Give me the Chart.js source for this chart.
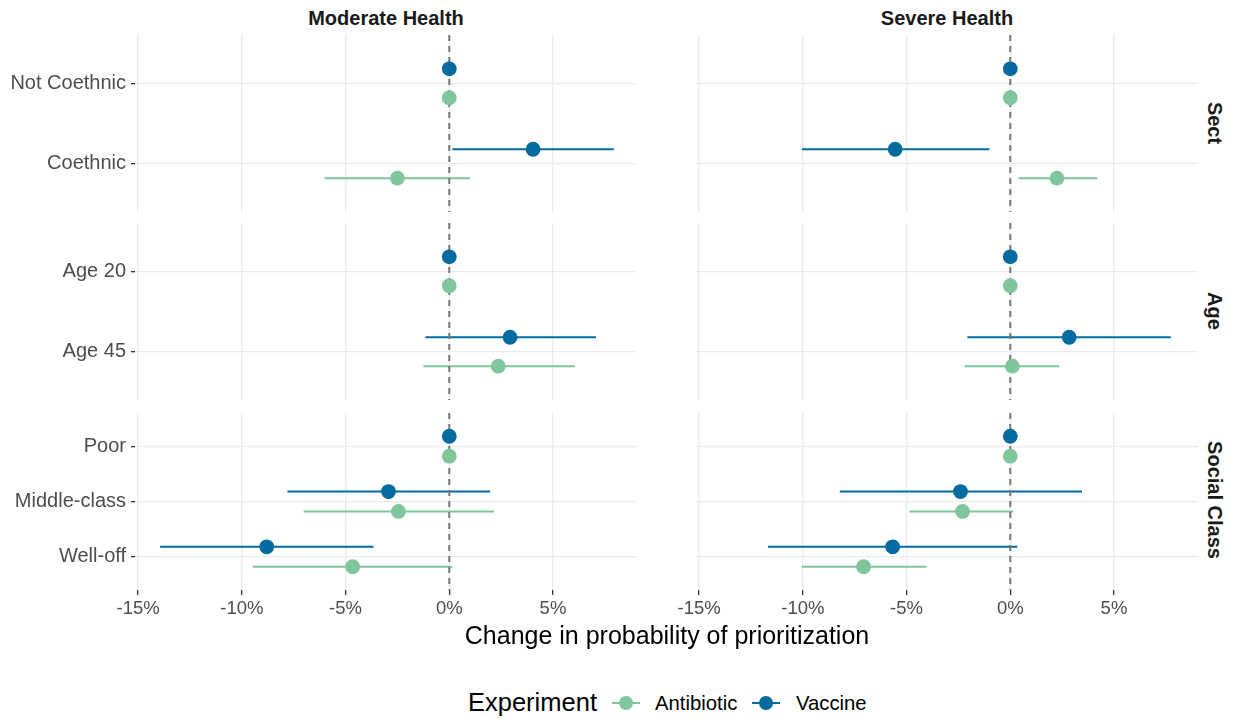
<!DOCTYPE html>
<html>
<head>
<meta charset="utf-8">
<script src="https://cdn.jsdelivr.net/npm/chart.js@4.4.1/dist/chart.umd.min.js"></script>
<style>
  body { margin: 0; background: #fff; width: 1235px; height: 719px; overflow: hidden; position: relative;
         font-family: "Liberation Sans", Arial, Helvetica, sans-serif; }
  canvas { position: absolute; }
  .txt { position: absolute; white-space: nowrap; line-height: 1; }
  .strip { font-weight: bold; font-size: 20px; color: #1a1a1a; transform: translate(-50%, -50%); }
  .rot { transform: translate(-50%, -50%) rotate(90deg); }
</style>
</head>
<body>
<canvas id="p11" width="637" height="177" style="left:0;top:35px"></canvas>
<canvas id="p12" width="542" height="177" style="left:656px;top:35px"></canvas>
<canvas id="p21" width="637" height="177" style="left:0;top:223px"></canvas>
<canvas id="p22" width="542" height="177" style="left:656px;top:223px"></canvas>
<canvas id="p31" width="637" height="211" style="left:0;top:413px"></canvas>
<canvas id="p32" width="542" height="211" style="left:656px;top:413px"></canvas>

<div class="txt strip" style="left:386px;top:18px">Moderate Health</div>
<div class="txt strip" style="left:947px;top:18px">Severe Health</div>
<div class="txt strip rot" style="left:1215px;top:123px">Sect</div>
<div class="txt strip rot" style="left:1215px;top:311px">Age</div>
<div class="txt strip rot" style="left:1215px;top:500px">Social Class</div>

<div class="txt" style="left:667px;top:635px;transform:translate(-50%,-50%);font-size:25px;color:#000">Change in probability of prioritization</div>

<div class="txt" style="left:468px;top:703px;transform:translateY(-50%);font-size:25.5px;color:#000">Experiment</div>
<svg style="position:absolute;left:610px;top:693px" width="32" height="20">
  <line x1="2" y1="10" x2="30" y2="10" stroke="#7FC69C" stroke-width="2"/>
  <circle cx="16" cy="10" r="7" fill="#7FC69C"/>
</svg>
<div class="txt" style="left:655px;top:703px;transform:translateY(-50%);font-size:20.3px;color:#000">Antibiotic</div>
<svg style="position:absolute;left:750px;top:693px" width="32" height="20">
  <line x1="2" y1="10" x2="30" y2="10" stroke="#036B9F" stroke-width="2"/>
  <circle cx="16" cy="10" r="7" fill="#036B9F"/>
</svg>
<div class="txt" style="left:796px;top:703px;transform:translateY(-50%);font-size:20.3px;color:#000">Vaccine</div>

<script>
// Niveaux de chaque groupe (de haut en bas)
const sectLevels = ['Not Coethnic', 'Coethnic'];
const ageLevels = ['Age 20', 'Age 45'];
const classLevels = ['Poor', 'Middle-class', 'Well-off'];
const xTicks = [-15, -10, -5, 0, 5];

// Estimations en % : [estimation, borne basse, borne haute] (null = niveau de référence)
const sectModerateVaccine = [[0, null, null], [4.04, 0.15, 7.93]];
const sectModerateAntibiotic = [[0, null, null], [-2.5, -6.0, 1.0]];
const sectSevereVaccine = [[0, null, null], [-5.55, -10.05, -1.0]];
const sectSevereAntibiotic = [[0, null, null], [2.25, 0.4, 4.2]];

const ageModerateVaccine = [[0, null, null], [2.93, -1.15, 7.07]];
const ageModerateAntibiotic = [[0, null, null], [2.36, -1.25, 6.06]];
const ageSevereVaccine = [[0, null, null], [2.84, -2.07, 7.74]];
const ageSevereAntibiotic = [[0, null, null], [0.1, -2.2, 2.36]];

const classModerateVaccine = [[0, null, null], [-2.93, -7.8, 1.97], [-8.8, -13.94, -3.65]];
const classModerateAntibiotic = [[0, null, null], [-2.45, -7.02, 2.16], [-4.66, -9.47, 0.14]];
const classSevereVaccine = [[0, null, null], [-2.4, -8.22, 3.46], [-5.67, -11.68, 0.34]];
const classSevereAntibiotic = [[0, null, null], [-2.3, -4.86, 0.14], [-7.07, -10.05, -4.04]];

const vaccineColor = '#036B9F';
const antibioticColor = '#7FC69C';
const gridColor = '#EBEBEB';
const fontFamily = '"Liberation Sans", Arial, Helvetica, sans-serif';
const dodge = 0.18;

function seriesDatasets(values, offset, color) {
    const sets = [];
    // Barres d'erreur
    values.forEach(function(v, i) {
        if (v[1] === null) return;
        sets.push({
            data: [{ x: v[1], y: i + 1 + offset }, { x: v[2], y: i + 1 + offset }],
            showLine: true,
            borderColor: color,
            borderWidth: 2,
            pointRadius: 0,
            order: 2
        });
    });
    // Points
    sets.push({
        data: values.map(function(v, i) { return { x: v[0], y: i + 1 + offset }; }),
        backgroundColor: color,
        borderColor: color,
        pointRadius: 7.4,
        pointBorderWidth: 0,
        order: 0
    });
    return sets;
}

function makePanel(id, levels, vaccine, antibiotic, showY, showX) {
    const n = levels.length;
    const yMin = 0.4, yMax = n + 0.6;
    const datasets = []
        .concat(seriesDatasets(vaccine, -dodge, vaccineColor))
        .concat(seriesDatasets(antibiotic, dodge, antibioticColor));
    // Ligne verticale à 0
    datasets.push({
        data: [{ x: 0, y: yMin }, { x: 0, y: yMax }],
        showLine: true,
        borderColor: '#777777',
        borderWidth: 2,
        borderDash: [6, 5],
        pointRadius: 0,
        order: 1
    });

    return new Chart(document.getElementById(id), {
        type: 'scatter',
        data: { datasets: datasets },
        options: {
            responsive: false,
            animation: false,
            events: [],
            layout: { padding: 0, autoPadding: false },
            plugins: { legend: { display: false }, tooltip: { enabled: false } },
            scales: {
                x: {
                    type: 'linear',
                    min: -15.15,
                    max: 9.05,
                    afterBuildTicks: function(scale) {
                        scale.ticks = xTicks.map(function(v) { return { value: v }; });
                    },
                    ticks: {
                        display: showX,
                        autoSkip: false,
                        maxRotation: 0,
                        padding: 3,
                        color: '#4D4D4D',
                        font: { family: fontFamily, size: 18.5 },
                        callback: function(value) { return value + '%'; }
                    },
                    grid: { color: gridColor, lineWidth: 1.3, drawTicks: showX, tickLength: 5, tickColor: '#333333', tickWidth: 1.3 },
                    border: { display: false },
                    afterFit: function(scale) {
                        scale.height = showX ? 34 : 0;
                        scale.paddingLeft = 0;
                        scale.paddingRight = 0;
                    }
                },
                y: {
                    type: 'linear',
                    reverse: true,
                    min: yMin,
                    max: yMax,
                    afterBuildTicks: function(scale) {
                        scale.ticks = levels.map(function(l, i) { return { value: i + 1 }; });
                    },
                    ticks: {
                        display: showY,
                        autoSkip: false,
                        padding: 5,
                        color: '#4D4D4D',
                        font: { family: fontFamily, size: 20 },
                        callback: function(value) { return levels[value - 1]; }
                    },
                    grid: { color: gridColor, lineWidth: 1.3, drawTicks: showY, tickLength: 4, tickColor: '#333333', tickWidth: 1.3 },
                    border: { display: false },
                    afterFit: function(scale) {
                        scale.width = showY ? 135 : 40;
                        scale.paddingTop = 0;
                        scale.paddingBottom = 0;
                    }
                }
            }
        }
    });
}

makePanel('p11', sectLevels, sectModerateVaccine, sectModerateAntibiotic, true, false);
makePanel('p12', sectLevels, sectSevereVaccine, sectSevereAntibiotic, false, false);
makePanel('p21', ageLevels, ageModerateVaccine, ageModerateAntibiotic, true, false);
makePanel('p22', ageLevels, ageSevereVaccine, ageSevereAntibiotic, false, false);
makePanel('p31', classLevels, classModerateVaccine, classModerateAntibiotic, true, true);
makePanel('p32', classLevels, classSevereVaccine, classSevereAntibiotic, false, true);
</script>
</body>
</html>
